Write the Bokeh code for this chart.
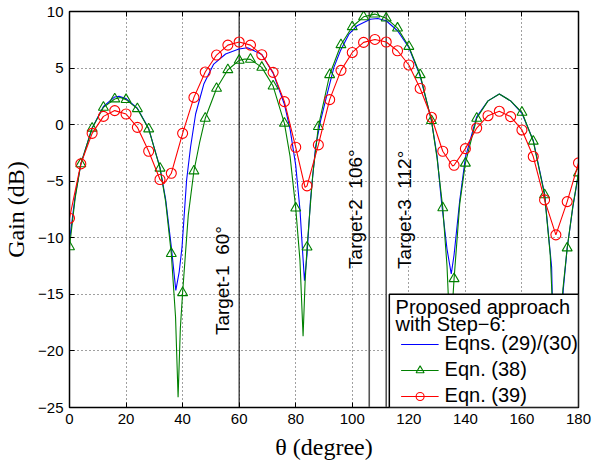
from bokeh.plotting import figure
from bokeh.models import (Legend, LegendItem, Label, Span, LinearAxis, Range1d,
                          FixedTicker, BoxAnnotation)
from bokeh.embed import file_html
from bokeh.resources import INLINE

# ---------------- data ----------------
blue_theta = [0, 2, 4, 8, 12, 16, 17.5, 20, 24, 28, 32, 34, 36, 37.6, 38.8, 39.8,
              41.4, 42.8, 44.6, 47.5, 51, 55.2, 59.9, 63, 68, 72, 76, 78, 80, 81.5,
              82.5, 83.1, 84, 85.2, 87, 88.8, 91.1, 93.5, 95.8, 98.8, 101.7, 106.4,
              109, 112, 116, 120, 124, 128, 130, 131.5, 133.5, 135, 136, 138, 140,
              144, 148, 152, 156, 160, 164, 168, 170.5, 172, 174.6, 176, 178, 180]
blue_gain = [-10.3, -6.3, -3.5, -0.3, 1.6, 2.45, 2.5, 2.3, 1.45, -0.35, -3.8, -6.6,
             -10.8, -14.65, -13.0, -10.8, -4.94, -2.0, 0.94, 3.59, 5.35, 6.24, 6.68,
             6.8, 6.2, 4.55, 1.8, -0.4, -3.6, -7.5, -11.5, -13.8, -11.5, -6.7, -2.0,
             0.35, 2.7, 5.06, 6.53, 8.0, 8.74, 9.32, 9.38, 9.18, 8.3, 6.82, 4.3, 0.35,
             -2.8, -6.7, -11.0, -13.2, -11.5, -6.7, -2.9, 0.7, 2.1, 2.7, 2.1, 1.0,
             -1.4, -6.1, -12.6, -30.0, -14.6, -10.9, -7.3, -4.35]

green_theta = [0, 2, 4, 8, 12, 16, 18, 20, 24, 28, 32, 34, 36, 37.5, 38.4, 39.2, 40,
               42, 44, 46, 48, 52, 56, 60, 62, 64, 68, 72, 76, 78, 80, 81.5, 82.6,
               83.3, 84, 86, 88, 92, 96, 100, 104, 108, 112, 116, 120, 124, 128, 130,
               132, 133.5, 134.8, 135.4, 136, 138, 140, 144, 148, 152, 156, 160, 164,
               168, 170, 171.5, 172, 173, 174.5, 176, 178, 180]
green_gain = [-10.8, -6.5, -3.47, -0.32, 1.53, 2.27, 2.4, 2.21, 1.41, -0.38, -3.85,
              -6.8, -11.4, -17.0, -24.1, -18.0, -14.86, -8.0, -4.1, -1.6, 0.56, 3.2,
              4.85, 5.68, 5.8, 5.77, 5.06, 3.41, 0.12, -2.8, -7.38, -12.0, -18.7, -14.0,
              -10.83, -4.5, -0.18, 4.41, 7.06, 8.65, 9.53, 9.77, 9.41, 8.53, 6.91, 4.41,
              0.35, -3.0, -7.35, -12.5, -20.0, -16.0, -13.62, -7.0, -3.41, 0.56, 2.1,
              2.7, 2.1, 1.09, -1.47, -6.2, -11.5, -20.0, -30.0, -20.0, -14.5, -10.9,
              -7.2, -4.27]
green_no_marker = [148, 152, 156, 172]

red_theta = [0, 4, 8, 12, 16, 20, 24, 28, 32, 33.5, 36, 40, 44, 48, 52, 56, 60, 64,
             68, 72, 76, 80, 83.3, 84, 88, 92, 96, 100, 104, 108, 112, 116, 120, 124,
             128, 132, 135.5, 136, 140, 144, 148, 152, 156, 160, 164, 168, 172, 176, 180]
red_gain = [-8.27, -3.47, -0.77, 0.73, 1.24, 0.94, -0.24, -2.35, -4.85, -5.2, -4.3,
            -0.77, 2.41, 4.65, 6.15, 7.03, 7.3, 7.03, 6.18, 4.62, 2.03, -2.0, -5.55,
            -5.41, -1.79, 2.21, 4.8, 6.38, 7.27, 7.53, 7.3, 6.53, 5.27, 3.2, 0.65,
            -2.35, -3.65, -3.59, -2.12, -0.3, 0.79, 1.18, 0.71, -0.47, -2.82, -6.65,
            -9.74, -6.8, -3.38]

marker_step = 4
targets = [60, 106, 112]
target_labels = ["Target-1 \u00a060\u00b0", "Target-2 \u00a0106\u00b0",
                 "Target-3 \u00a0112\u00b0"]
x_ticks = [0, 20, 40, 60, 80, 100, 120, 140, 160, 180]
y_ticks = [-25, -20, -15, -10, -5, 0, 5, 10]
legend_title_lines = ["Proposed approach", "with Step\u22126:"]
legend_labels = ["Eqns. (29)/(30)", "Eqn. (38)", "Eqn. (39)"]

# ---------------- styling / layout ----------------
BLUE, GREEN, RED = "#0000ff", "#008000", "#ff0000"
SANS = "Liberation Sans"
SERIF = "Liberation Serif"
label_offsets = [-6.0, -5.0, 6.6]       # label baseline offset from target line (deg)
label_bottom = [-18.6, -12.75, -12.75]  # where the rotated text starts (dB)
target_colors = ["#222222", "#555555", "#555555"]
target_widths = [1.2, 1.6, 1.6]
legend_box = dict(left=113.1, right=180, bottom=-25, top=-15.0)   # data units
legend_title_x = 115.3
legend_title_y = [-16.1, -17.6]

p = figure(width=594, height=462, x_range=Range1d(0, 180), y_range=Range1d(-25, 10),
           output_backend="svg", toolbar_location=None,
           min_border_left=69, min_border_right=16, min_border_top=11,
           min_border_bottom=55)
p.background_fill_color = "white"
p.border_fill_color = "white"
p.outline_line_color = "black"
p.outline_line_width = 1.5

for ax in (p.xaxis[0], p.yaxis[0]):
    ax.major_tick_in = 5
    ax.major_tick_out = 0
    ax.minor_tick_line_color = None
    ax.axis_line_color = "black"
    ax.major_tick_line_color = "black"
    ax.major_label_text_font = SANS
    ax.major_label_text_font_size = "15px"
    ax.major_label_text_color = "black"
    ax.major_label_standoff = 6
    ax.axis_label_text_font = SERIF
    ax.axis_label_text_font_size = "24px"
    ax.axis_label_text_font_style = "normal"
    ax.axis_label_text_color = "black"

p.xaxis[0].ticker = FixedTicker(ticks=x_ticks)
p.yaxis[0].ticker = FixedTicker(ticks=y_ticks)
p.xaxis[0].axis_label = "\u03b8 (degree)"
p.yaxis[0].axis_label = "Gain (dB)"
p.xaxis[0].axis_label_standoff = 7
p.yaxis[0].axis_label_standoff = 6

for loc, tk in (("right", y_ticks), ("above", x_ticks)):
    ax = LinearAxis(ticker=FixedTicker(ticks=tk), major_tick_in=5, major_tick_out=0,
                    minor_tick_line_color=None, major_label_text_font_size="1px",
                    major_label_overrides={t: "" for t in tk},
                    major_label_standoff=0, axis_line_color="black")
    p.add_layout(ax, loc)

p.xgrid.ticker = FixedTicker(ticks=x_ticks)
p.ygrid.ticker = FixedTicker(ticks=y_ticks)
for g in (p.xgrid[0], p.ygrid[0]):
    g.grid_line_color = "black"
    g.grid_line_alpha = 0.75
    g.grid_line_dash = "1 3"
    g.grid_line_width = 1

# target lines
for t, c, w in zip(targets, target_colors, target_widths):
    p.add_layout(Span(location=t, dimension="height", line_color=c, line_width=w,
                      level="underlay"))

# curves
blue_r = p.line(blue_theta, blue_gain, line_color=BLUE, line_width=1.1)

green_r = p.line(green_theta, green_gain, line_color=GREEN, line_width=1.1)
gm = [(t, g) for t, g in zip(green_theta, green_gain)
      if t % marker_step == 0 and t not in green_no_marker]
green_m = p.scatter([t for t, _ in gm], [g for _, g in gm], marker="triangle", size=10,
                    fill_color=None, line_color=GREEN, line_width=1.1)

red_r = p.line(red_theta, red_gain, line_color=RED, line_width=1.1)
rm = [(t, g) for t, g in zip(red_theta, red_gain) if t % marker_step == 0]
red_m = p.scatter([t for t, _ in rm], [g for _, g in rm], marker="circle", size=10,
                  fill_color=None, line_color=RED, line_width=1.1)

# target labels
for t, txt, off, yb in zip(targets, target_labels, label_offsets, label_bottom):
    p.add_layout(Label(x=t + off, y=yb, text=txt, angle=90, angle_units="deg",
                       text_align="left", text_baseline="alphabetic",
                       text_font=SANS, text_font_size="19px", text_color="black"))

# legend: framed white box + two title lines + entries
p.add_layout(BoxAnnotation(**legend_box, fill_color="white", fill_alpha=1.0,
                           line_color="black", line_width=1.5, line_alpha=1.0))
for txt, ty in zip(legend_title_lines, legend_title_y):
    p.add_layout(Label(x=legend_title_x, y=ty, text=txt, text_align="left",
                       text_baseline="alphabetic", text_font=SANS,
                       text_font_size="20px", text_color="black"))

legend = Legend(items=[
    LegendItem(label=legend_labels[0], renderers=[blue_r]),
    LegendItem(label=legend_labels[1], renderers=[green_r, green_m]),
    LegendItem(label=legend_labels[2], renderers=[red_r, red_m]),
], location="bottom_right")
legend.margin = 0
legend.padding = 3
legend.spacing = 3
legend.border_line_color = None
legend.background_fill_alpha = 0.0
legend.label_text_font = SANS
legend.label_text_font_size = "20px"
legend.label_text_color = "black"
legend.glyph_width = 38
legend.glyph_height = 20
legend.label_standoff = 6
legend.label_height = 20
p.add_layout(legend)

open("out.html", "w").write(file_html(p, INLINE))
